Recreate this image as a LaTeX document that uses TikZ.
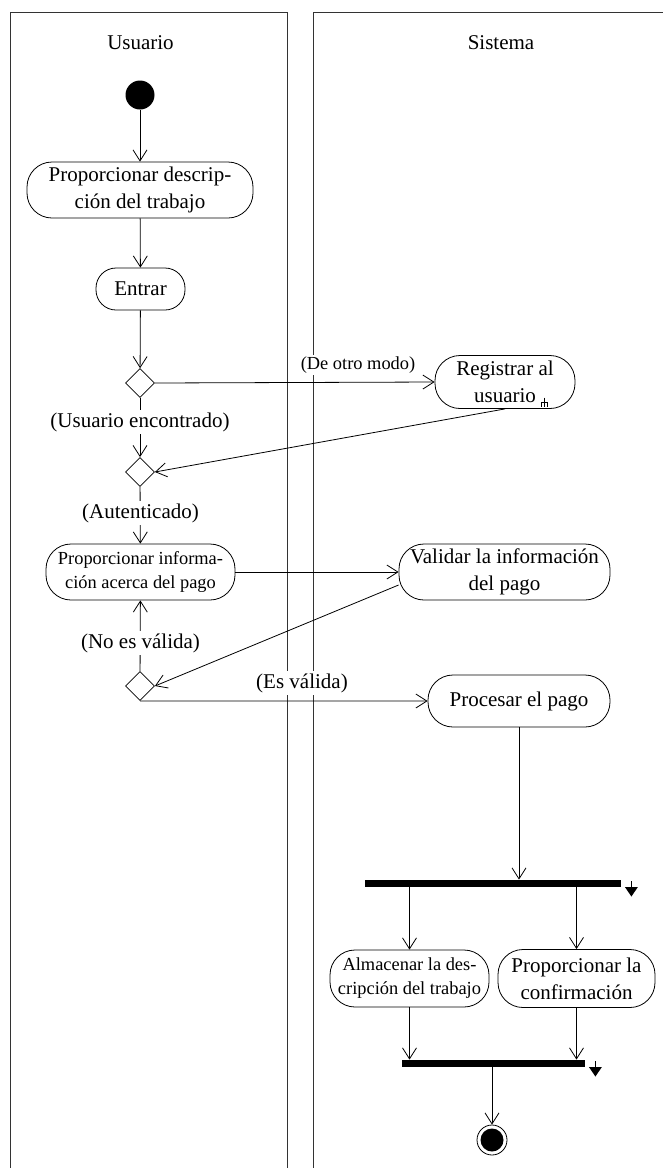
\documentclass[tikz,border=0pt]{standalone}
\usepackage{fontspec}
\setmainfont{Liberation Serif}
\usetikzlibrary{shapes.geometric,arrows.meta,calc}
\newcommand{\fbig}{\fontsize{21}{27}\selectfont}
\newcommand{\fsmall}{\fontsize{18.4}{24}\selectfont}
\tikzset{
  smallarr/.pic={
    \draw[line width=0.9pt] (0,-2.5) -- (0,4);
    \fill (-6.5,3.5) -- (6.5,3.5) -- (0,13) -- cycle;
  }
}
\begin{document}
\begin{tikzpicture}[x=1pt,y=-1pt,line width=0.8pt,
  act/.style={draw, rounded corners=25pt, align=center, inner sep=0pt, font=\fbig},
  actsm/.style={act, font=\fsmall},
  dec/.style={diamond, draw, minimum width=29pt, minimum height=29pt, inner sep=0pt},
  bar/.style={rectangle, fill=black, inner sep=0pt, minimum height=7pt},
  flow/.style={-{Straight Barb[length=11pt,width=14pt]}},
  lbl/.style={fill=white, inner sep=2pt, font=\fbig},
  lane/.style={line width=1pt, draw=black!80}]
\useasboundingbox (0,0) rectangle (662,1168);
% swimlanes
\draw[lane] (10,1175) -- (10,12) -- (287,12) -- (287,1175);
\draw[lane] (313,1175) -- (313,12) -- (670,12);
\node[font=\fbig] (tu) at (140.5,43) {Usuario};
\node[font=\fbig] (ts) at (501,43) {Sistema};
% nodes
\node[circle, fill=black, minimum size=29pt, inner sep=0pt] (ini) at (140,95) {};
\node[act, minimum width=226pt, minimum height=56pt] (a1) at (140,190) {Proporcionar descrip-\\ción del trabajo};
\node[act, rounded corners=20pt, minimum width=89pt, minimum height=42pt] (a2) at (140.5,289) {Entrar};
\node[dec] (d1) at (140,383) {};
\node[act, minimum width=140pt, minimum height=53pt] (reg) at (505,382) {Registrar al\\usuario};
\node[dec] (d2) at (140,472) {};
\node[actsm, minimum width=189pt, minimum height=56pt] (pi) at (140.5,572) {Proporcionar informa-\\ción acerca del pago};
\node[act, minimum width=211pt, minimum height=56pt] (val) at (504.5,572) {Validar la información\\del pago};
\node[dec] (d3) at (140,686) {};
\node[act, minimum width=182pt, minimum height=52pt] (proc) at (519,701) {Procesar el pago};
\node[bar, minimum width=256pt] (fork) at (493,883.5) {};
\node[actsm, minimum width=159pt, minimum height=57pt] (alm) at (409.5,978.5) {Almacenar la des-\\cripción del trabajo};
\node[act, minimum width=157pt, minimum height=58pt] (conf) at (576.5,978.5) {Proporcionar la\\confirmación};
\node[bar, minimum width=183pt] (join) at (493.5,1063.5) {};
\node[circle, draw, minimum size=30pt, inner sep=0pt] (fin) at (492,1140) {};
\fill (fin.center) circle (11.5pt);
% rake symbol
\coordinate (rk) at ($(reg.center)+(39,20)$);
\draw[line width=0.7pt] ($(rk)+(0,-4.5)$) -- ($(rk)+(0,4.5)$);
\draw[line width=0.7pt] ($(rk)+(-3,4.5)$) -- ($(rk)+(-3,0)$) -- ($(rk)+(3,0)$) -- ($(rk)+(3,4.5)$);
% connectors
\draw[flow] (ini) -- (a1);
\draw[flow] (a1) -- (a2);
\draw[flow] (a2) -- (d1);
\draw[flow] (d1.east) -- (reg.west);
\draw[flow] (reg.south) -- (d2.east);
\draw[flow] (d1) -- (d2);
\draw[flow] (d2) -- (pi);
\draw[flow] (pi.east) -- (val.west);
\draw[flow] ([yshift=-13pt]val.west) -- (d3.east);
\draw[flow] (d3) -- (pi);
\draw[flow] (d3.south) -- (proc.west);
\draw[flow] (proc.south) -- (proc.south |- fork.north);
\draw[flow] (alm.north |- fork.south) -- (alm.north);
\draw[flow] (conf.north |- fork.south) -- (conf.north);
\draw[flow] (alm.south) -- (alm.south |- join.north);
\draw[flow] (conf.south) -- (conf.south |- join.north);
\draw[flow] (join.south -| fin.north) -- (fin.north);
\pic at ([xshift=10pt]fork.east) {smallarr};
\pic at ([xshift=10pt]join.east) {smallarr};
% labels
\node[lbl, font=\fsmall] (l1) at (358,365) {(De otro modo)};
\node[lbl] (l2) at (140,422) {(Usuario encontrado)};
\node[lbl] (l3) at (140.5,513) {(Autenticado)};
\node[lbl] (l4) at (140.5,643) {(No es válida)};
\node[lbl] (l5) at (302,683) {(Es válida)};
\end{tikzpicture}
\end{document}
